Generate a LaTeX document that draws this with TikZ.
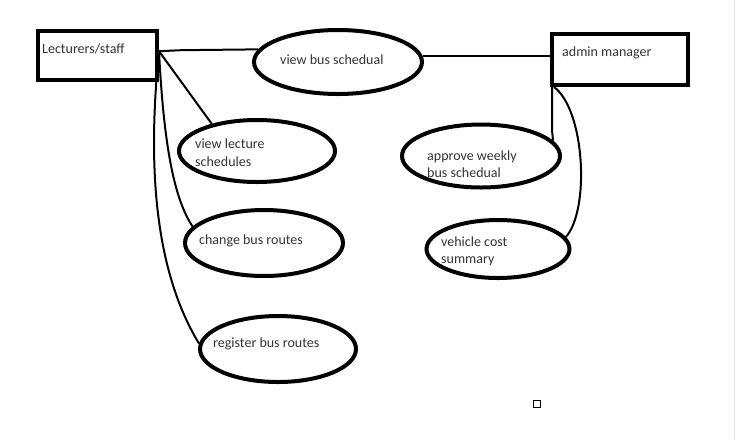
\documentclass[tikz,border=0pt]{standalone}
\usepackage{fontspec}
\setmainfont{Carlito}
\usepackage{tikz}
\usetikzlibrary{shapes.geometric,calc}

\tikzset{
  actor/.style={draw,line width=4pt,inner sep=0pt},
  usecase/.style={ellipse,draw,line width=4pt,inner sep=0pt},
  link/.style={line width=2pt},
  txt/.style={anchor=west,inner sep=0pt,align=left,text=black!80,
    font=\fontsize{14}{17.5}\selectfont}
}

\begin{document}
\begin{tikzpicture}[x=1pt,y=-1pt]
  \useasboundingbox (0,0) rectangle (736,440);
  % actors
  \node[actor,minimum width=119pt,minimum height=49pt] (lec) at (97.5,55.5) {};
  \node[txt] (lec-t) at (42,49) {Lecturers/staff};
  \node[actor,minimum width=136pt,minimum height=51pt] (adm) at (620,59.5) {};
  \node[txt] (adm-t) at (562,53) {admin manager};
  % use cases
  \node[usecase,minimum width=168pt,minimum height=64pt] (vbs) at (338,62) {};
  \node[txt] (vbs-t) at (280,60) {view bus schedual};
  \node[usecase,minimum width=156pt,minimum height=62pt] (vls) at (257,151) {};
  \node[txt] (vls-t) at (195,152.5) {view lecture\\schedules};
  \node[usecase,minimum width=158pt,minimum height=66pt] (cbr) at (264,243) {};
  \node[txt] (cbr-t) at (199,241) {change bus routes};
  \node[usecase,minimum width=156pt,minimum height=66pt] (rbr) at (278,349) {};
  \node[txt] (rbr-t) at (213,344) {register bus routes};
  \node[usecase,minimum width=158pt,minimum height=63pt] (aws) at (481,156) {};
  \node[txt] (aws-t) at (427,164) {approve weekly\\bus schedual};
  \node[usecase,minimum width=143pt,minimum height=58pt] (vcs) at (498,249) {};
  \node[txt] (vcs-t) at (441,251.5) {vehicle cost\\summary};
  \node[draw,line width=1pt,minimum size=7pt,inner sep=0pt] (sq) at (537,404) {};
  \draw[black!10,line width=1pt] (734.5,0) -- (734.5,440);
  % connectors
  \draw[link] (lec.4) -- ++(22,-1) -- (vbs.171);
  \draw[link] (vbs.4) -- (vbs.4 -| adm.west);
  \draw[link] (lec.4) -- (vls.149);
  \draw[link] (lec.4) .. controls (164,150) and (175,200) .. (cbr.167);
  \draw[link] (lec.4) .. controls (150,140) and (148,260) .. (rbr.176);
  \draw[link] ([xshift=2pt]adm.south west) -- ++(0,43) -- (aws.12);
  \draw[link] ([xshift=4pt]adm.south west) .. controls (585,110) and (590,210) .. (vcs.10);
\end{tikzpicture}
\end{document}
